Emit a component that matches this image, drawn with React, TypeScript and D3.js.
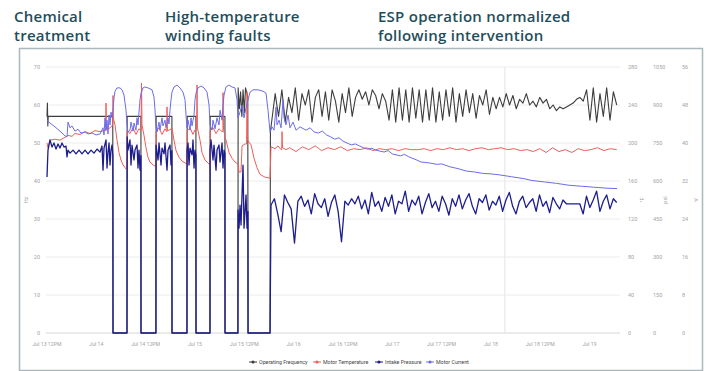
import React from "react";
import * as d3 from "d3";

// [hours since Jul 13 12PM, value]
type Pt = [number, number];

const START = new Date(2021, 6, 13, 12, 0, 0);
const END_HOURS = 139.4;
const CURSOR_HOURS = 111.4;

const hzTicks = [0, 10, 20, 30, 40, 50, 60, 70];
const tempTicks = [0, 40, 80, 120, 160, 200, 240, 280];
const psiTicks = [0, 150, 300, 450, 600, 750, 900, 1050];
const ampTicks = [0, 8, 16, 24, 32, 40, 48, 56];

const seriesNames = ["Operating Frequency", "Motor Temperature", "Intake Pressure", "Motor Current"];
const seriesColors = ["#3d3d3d", "#ec5f5b", "#1d1d8e", "#6c6ce8"];
const unitLabels = ["Hz", "°F", "psi", "A"];

const headlines = [
  ["Chemical", "treatment"],
  ["High-temperature", "winding faults"],
  ["ESP operation normalized", "following intervention"],
];

// Operating frequency (Hz) through the trips
const freqEarly: Pt[] = [
  [0, 57], [0.1, 60.5], [0.2, 54.5], [0.3, 57], [16.0, 57], [16.06, 0], [19.46, 0],
  [19.5, 57], [22.85, 57], [22.87, 0], [26.5, 0], [26.55, 57], [30.39, 57], [30.41, 0],
  [34.05, 0], [34.1, 57], [36.23, 57], [36.25, 0], [39.65, 0], [39.7, 57], [43.29, 57],
  [43.31, 0], [46.45, 0], [46.5, 64.5], [46.8, 59], [47.1, 63.5], [47.4, 57], [47.7, 64],
  [48.0, 58], [48.3, 64.5], [48.85, 62], [48.91, 0], [54.26, 0], [54.35, 53],
];
// Operating frequency after the intervention (evenly sampled)
const freqTail = [
  56, 63, 57, 64, 55.5, 62, 58, 64.5, 56,
  63, 60, 64, 55.5, 62, 64, 57, 63.5, 56, 64, 61, 55.5, 63, 58, 64.5, 57,
  62, 64, 61.5, 63.5, 60, 64, 62.5, 59, 63, 61,
  56, 64, 55.5, 64.5, 56, 64, 55.5, 64.5, 56.5, 64, 55.5, 64, 56, 64.5, 55.5, 63.5, 56, 64, 57, 64.5, 55.5, 63,
  57, 64, 58, 63, 56.5, 62.5, 60, 64, 57.5, 62, 59,
  62, 59.5, 63, 60, 62.5, 59, 61.5, 60.5, 63, 60, 61, 59.5, 62, 60.5, 61.5, 59, 60, 58.5, 59.5,
  59, 59.5, 60, 60.5, 61.5, 62, 61,
  64, 56, 64.5, 55.5, 63, 57, 64.5, 56, 63.5, 60,
];
const freqTailSpan: [number, number] = [54.7, 138.6];

// Motor temperature (°F)
const tempEarly: Pt[] = [
  [0, 200], [0.24, 195], [0.73, 203], [1.95, 204], [3.16, 203], [4.38, 206], [5.11, 208],
  [6.08, 207], [6.81, 210], [8.03, 209], [9.25, 212], [10.46, 210], [11.68, 213], [12.9, 212],
  [13.87, 213], [14.3, 213], [14.36, 242], [14.45, 214], [15.33, 216], [15.82, 218], [16.0, 220],
  [16.06, 250], [16.15, 226], [16.55, 219], [17.03, 203], [17.52, 190], [18.0, 182], [18.49, 177],
  [18.98, 174], [19.44, 172], [19.48, 213], [20.19, 210], [20.92, 216], [21.65, 209], [22.38, 215],
  [22.87, 213], [23.0, 263], [23.11, 219], [23.6, 208], [24.09, 195], [24.57, 185], [25.06, 180],
  [25.79, 177], [26.5, 175], [26.55, 212], [27.25, 216], [27.98, 209], [28.71, 215], [29.15, 212],
  [29.2, 238], [29.3, 213], [29.93, 214], [30.41, 216], [30.9, 203], [31.39, 192], [32.12, 185],
  [32.85, 181], [33.58, 179], [34.05, 178], [34.1, 213], [34.79, 216], [35.52, 209], [36.01, 214],
  [36.4, 214], [36.5, 261], [36.6, 216], [37.23, 203], [37.71, 190], [38.44, 182], [39.17, 179],
  [39.64, 177], [39.7, 213], [40.39, 216], [41.12, 210], [41.85, 215], [42.58, 212], [42.8, 212],
  [42.82, 253], [42.95, 214], [43.55, 203], [44.28, 190], [45.01, 184], [45.74, 180], [46.47, 178],
  [46.72, 169.5], [47.2, 169.5], [47.45, 197], [48.18, 199], [48.55, 199], [48.66, 254], [48.8, 203],
  [49.64, 198], [50.36, 184], [51.09, 174], [51.82, 167], [53.04, 164], [54.26, 163], [54.5, 196],
  [55.47, 194], [56.2, 197], [56.93, 193], [57.1, 193], [57.18, 212], [57.3, 195], [58.15, 193],
];
const tempTail = [
  195, 191, 196, 193, 197, 192, 195, 193, 196, 192,
  194, 193, 195, 192, 194, 193, 194, 192, 194, 193,
  193, 194, 192, 194, 193, 195, 193, 194, 192, 194,
  195, 193, 194, 195, 193, 194, 192, 193, 191, 194,
  190, 195, 191, 193, 190, 194, 192, 193, 195, 192,
  194, 193,
];
const tempTailSpan: [number, number] = [59.0, 138.6];

// Intake pressure (psi)
const intakeEarly: Pt[] = [
  [0, 616], [0.24, 722], [0.73, 762], [1.22, 734], [1.7, 750], [2.19, 726], [2.68, 746], [3.16, 730],
  [3.65, 750], [4.14, 734], [4.62, 738], [4.87, 695], [5.11, 722], [5.6, 710], [6.33, 722], [7.06, 707],
  [7.79, 722], [8.52, 707], [9.25, 722], [9.98, 707], [10.71, 722], [11.44, 710], [12.17, 726],
  [12.9, 714], [13.38, 738], [13.63, 643], [13.87, 730], [14.36, 762], [14.6, 651], [14.84, 714],
  [15.09, 750], [15.33, 663], [15.57, 722], [15.82, 742], [16.03, 700], [16.06, 0], [19.46, 0],
  [19.5, 774], [19.71, 722], [20.19, 762], [20.44, 663], [20.68, 742], [21.17, 683], [21.41, 722],
  [21.9, 742], [22.14, 651], [22.38, 722], [22.63, 643], [22.85, 700], [22.87, 0], [26.5, 0],
  [26.52, 742], [27.01, 683], [27.25, 750], [27.74, 663], [27.98, 730], [28.47, 707], [28.71, 750],
  [29.2, 643], [29.44, 722], [29.93, 742], [30.17, 663], [30.39, 720], [30.41, 0], [34.05, 0],
  [34.06, 722], [34.31, 750], [34.55, 663], [34.79, 730], [35.28, 703], [35.52, 762], [35.77, 651],
  [36.01, 722], [36.23, 700], [36.25, 0], [39.65, 0], [39.66, 722], [39.9, 762], [40.39, 683],
  [40.63, 742], [41.12, 643], [41.36, 722], [41.85, 742], [42.09, 675], [42.58, 750], [42.82, 651],
  [43.07, 722], [43.29, 710], [43.31, 0], [46.45, 0], [46.47, 486], [46.72, 414], [46.96, 505],
  [47.2, 426], [47.69, 663], [47.93, 414], [48.42, 545], [48.66, 414], [48.89, 480], [48.91, 0],
  [54.26, 0],
];
const intakeTail = [
  505, 530, 470, 400, 545, 515, 490, 355, 520,
  540, 500, 525, 470, 550, 510, 495, 530, 460, 515, 545, 480, 360, 520, 505, 530,
  510, 540, 490, 525, 470, 555, 500, 520, 480, 535,
  500, 545, 470, 520, 510, 560, 480, 525, 505, 540, 470, 515, 550, 495, 520, 480, 540, 510, 465, 530, 500, 545,
  490, 525, 550, 500, 470, 530, 515, 545, 485, 520, 505,
  540, 480, 525, 555, 500, 470, 520, 540, 495, 515, 530, 480, 545, 500, 520, 475, 535, 510, 490,
  525, 510, 510, 510, 510, 510, 470,
  540, 495, 525, 560, 480, 520, 545, 490, 530, 515,
];
const intakeTailSpan: [number, number] = [54.5, 138.6];

// Motor current (A)
const currentPts: Pt[] = [
  [0, 44.8], [0.73, 44.2], [1.95, 43.4], [3.16, 42.5], [4.38, 41.5], [4.87, 41.3], [5.11, 44.4],
  [5.6, 43.2], [6.08, 43.6], [6.81, 42.5], [7.54, 42.9], [8.27, 42.1], [9.25, 42.3], [9.98, 41.9],
  [10.95, 42.1], [11.92, 41.7], [12.9, 41.9], [13.63, 43.2], [13.87, 41.7], [14.11, 45.3], [14.36, 42.7],
  [14.6, 44.8], [14.84, 41.9], [15.09, 45.9], [15.33, 43.8], [15.57, 46.5], [15.82, 45.3], [16.06, 46.9],
  [16.3, 49.5], [16.55, 50.9], [17.03, 51.6], [17.76, 51.6], [18.25, 51.2], [18.73, 50.1], [19.22, 46.9],
  [19.46, 43.8], [19.71, 42.3], [20.19, 42.7], [20.44, 44.4], [20.92, 42.5], [21.17, 44.2], [21.65, 42.7],
  [21.9, 45.3], [22.14, 43.8], [22.38, 46.5], [22.63, 49.1], [22.87, 50.5], [23.36, 51.6], [23.84, 51.8],
  [24.57, 51.6], [25.55, 51.2], [26.03, 49.7], [26.28, 46.9], [26.52, 43.2], [26.76, 42.3], [27.25, 44.4],
  [27.49, 42.7], [27.98, 45.3], [28.22, 43.6], [28.71, 44.8], [28.95, 43.2], [29.44, 45.3], [29.68, 44.0],
  [29.93, 46.9], [30.17, 49.1], [30.41, 50.7], [30.9, 51.8], [31.63, 52.2], [32.36, 51.6], [33.09, 50.7],
  [33.58, 49.1], [33.82, 45.9], [34.06, 43.2], [34.31, 44.8], [34.79, 42.7], [35.04, 45.3], [35.28, 43.6],
  [35.77, 45.9], [36.01, 49.1], [36.25, 50.5], [36.74, 51.6], [37.47, 52.0], [38.2, 51.6], [38.93, 50.7],
  [39.42, 48.0], [39.66, 43.8], [40.15, 42.7], [40.39, 44.8], [40.88, 43.0], [41.36, 45.3], [41.85, 43.8],
  [42.09, 46.9], [42.58, 44.8], [42.82, 48.0], [43.07, 50.1], [43.55, 51.8], [44.28, 52.2], [45.01, 51.8],
  [45.74, 51.6], [46.23, 49.1], [46.47, 45.3], [46.96, 46.5], [47.45, 48.0], [47.93, 45.3], [48.42, 47.4],
  [48.91, 49.1], [49.39, 50.7], [50.12, 51.2], [51.34, 51.2], [52.55, 50.9], [53.28, 50.5], [53.77, 46.9],
  [54.26, 42.3], [54.74, 43.4], [55.23, 42.7], [55.72, 47.6], [55.96, 43.8], [56.45, 44.8], [56.93, 43.2],
  [57.42, 49.1], [57.66, 45.3], [58.15, 43.8], [58.64, 45.9], [59.12, 43.2], [59.85, 44.4], [60.58, 42.7],
  [61.56, 43.4], [63, 42.7], [64, 43.2], [65, 42.3], [66, 42.1], [67, 42.5], [68, 41.7], [69, 41.3],
  [70, 40.8], [71, 41.1], [72, 40.4], [73, 40.0], [74, 39.6], [75, 39.8], [76, 39.4], [77, 39.0],
  [78, 38.7], [79, 38.9], [80, 38.5], [82, 38.1], [83, 38.4], [84, 37.7], [86, 37.3], [87, 37.6],
  [88, 37.1], [90, 36.4], [91, 36.0], [93, 35.8], [95, 35.5], [96, 35.6], [98, 35.0], [100, 34.6],
  [102, 34.1], [104, 33.9], [106, 33.6], [108, 33.5], [110, 33.3], [113, 32.9], [116, 32.5],
  [118, 32.1], [121, 31.8], [124, 31.5], [127, 31.1], [130, 30.9], [133, 30.7], [136, 30.5], [138.7, 30.4],
];

const toDate = (h: number) => new Date(START.getTime() + h * 3600 * 1000);

// put evenly sampled readings on their timestamps
const sampled = (vals: number[], span: [number, number]): Pt[] =>
  vals.map((v, i) => [span[0] + (i * (span[1] - span[0])) / (vals.length - 1), v]);

const plot = { left: 47, right: 620, top: 67, bottom: 333 };
const tickFont = "Roboto, sans-serif";

export default function App() {
  const x = d3.scaleTime().domain([START, toDate(END_HOURS)]).range([plot.left, plot.right]);
  const yHz = d3.scaleLinear().domain([0, 70]).range([plot.bottom, plot.top]);
  const yTemp = d3.scaleLinear().domain([0, 280]).range([plot.bottom, plot.top]);
  const yPsi = d3.scaleLinear().domain([0, 1050]).range([plot.bottom, plot.top]);
  const yAmp = d3.scaleLinear().domain([0, 56]).range([plot.bottom, plot.top]);

  const series = [
    { pts: [...freqEarly, ...sampled(freqTail, freqTailSpan)], y: yHz, w: 1.1 },
    { pts: [...tempEarly, ...sampled(tempTail, tempTailSpan)], y: yTemp, w: 1 },
    { pts: [...intakeEarly, ...sampled(intakeTail, intakeTailSpan)], y: yPsi, w: 1.3 },
    { pts: currentPts, y: yAmp, w: 1 },
  ];

  const xTicks = x.ticks(d3.timeHour.every(12) as d3.TimeInterval);
  const fmtDay = d3.timeFormat("%b %-d");
  const fmtNoon = d3.timeFormat("%b %-d %-I%p");

  const rightAxes = [
    { ticks: tempTicks, y: yTemp, x: 628 },
    { ticks: psiTicks, y: yPsi, x: 653 },
    { ticks: ampTicks, y: yAmp, x: 682 },
  ];
  const unitPos = [
    { x: 28, rot: -90 },
    { x: 644, rot: -90 },
    { x: 667, rot: -90 },
    { x: 694, rot: 90 },
  ];
  const headlineX = [14, 165, 378];
  const legendX = [249, 313, 375, 426];
  const legendY = 362;

  return (
    <svg width={709} height={371} style={{ position: "absolute", left: 0, top: 0, background: "#fff" }}>
      <rect x={19.5} y={48.5} width={683} height={322} fill="#fff" stroke="#a9b8bc" strokeWidth={1.5} />

      {headlines.map((lines, i) =>
        lines.map((t, j) => (
          <text key={i + "-" + j} x={headlineX[i]} y={22 + j * 19} fontFamily="'Open Sans', sans-serif" fontWeight={600} fontSize={15} letterSpacing={0.25} fill="#1f4e5b">
            {t}
          </text>
        ))
      )}

      {/* gridlines */}
      {hzTicks.map(t => (
        <line key={t} x1={plot.left - 1} x2={plot.right} y1={yHz(t)} y2={yHz(t)} stroke={t === 0 ? "#d6d6d6" : "#ececec"} strokeWidth={1} />
      ))}
      <line x1={x(toDate(CURSOR_HOURS))} x2={x(toDate(CURSOR_HOURS))} y1={plot.top} y2={plot.bottom} stroke="#e3e3e3" strokeWidth={1} />

      {/* series */}
      {series.map((s, i) => {
        const path = d3
          .line<Pt>()
          .x(d => x(toDate(d[0])))
          .y(d => s.y(d[1]))(s.pts);
        return <path key={i} d={path || ""} fill="none" stroke={seriesColors[i]} strokeWidth={s.w} strokeLinejoin="round" />;
      })}

      {/* left axis */}
      {hzTicks.map(t => (
        <text key={t} x={40} y={yHz(t) + 2} textAnchor="end" fontFamily={tickFont} fontSize={5.5} fill="#a3a3a3">{t}</text>
      ))}
      {/* right axes */}
      {rightAxes.map((a, i) =>
        a.ticks.map(t => (
          <text key={i + "-" + t} x={a.x} y={a.y(t) + 2} fontFamily={tickFont} fontSize={5.5} fill="#a3a3a3">{t}</text>
        ))
      )}
      {unitLabels.map((u, i) => (
        <text key={u} transform={`translate(${unitPos[i].x},${yHz(35)}) rotate(${unitPos[i].rot})`} textAnchor="middle" fontFamily={tickFont} fontSize={5.5} fill="#a3a3a3">{u}</text>
      ))}

      {/* x axis */}
      {xTicks.map(d => (
        <text key={d.getTime()} x={x(d)} y={346} textAnchor="middle" fontFamily={tickFont} fontSize={5.2} fill="#a3a3a3">
          {d.getHours() === 0 ? fmtDay(d) : fmtNoon(d)}
        </text>
      ))}

      {/* legend */}
      {seriesNames.map((n, i) => (
        <g key={n}>
          <line x1={legendX[i]} x2={legendX[i] + 8} y1={legendY} y2={legendY} stroke={seriesColors[i]} strokeWidth={1} />
          <circle cx={legendX[i] + 4} cy={legendY} r={1.6} fill={seriesColors[i]} />
          <text x={legendX[i] + 10} y={legendY + 2} fontFamily={tickFont} fontSize={5.3} fill="#444">{n}</text>
        </g>
      ))}
    </svg>
  );
}
